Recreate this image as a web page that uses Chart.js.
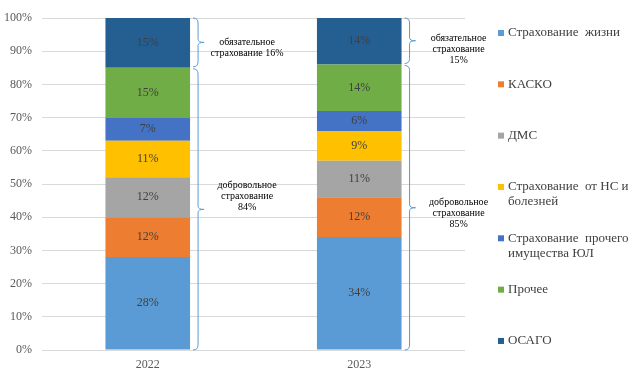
<!DOCTYPE html>
<html>
<head>
<meta charset="utf-8">
<script src="https://cdn.jsdelivr.net/npm/chart.js@4.4.0/dist/chart.umd.min.js"></script>
<style>
  body { margin: 0; background: #fff; }
  #wrap { width: 643px; height: 375px; }
</style>
</head>
<body>
<div id="wrap"><canvas id="c" width="643" height="375"></canvas></div>
<script>
const years = ['2022', '2023'];
const seriesNames = [
  ['Страхование  жизни'],
  ['КАСКО'],
  ['ДМС'],
  ['Страхование  от НС и', 'болезней'],
  ['Страхование  прочего', 'имущества ЮЛ'],
  ['Прочее'],
  ['ОСАГО']
];
const lifeIns = [28, 34];
const kasko = [12, 12];
const dms = [12, 11];
const accident = [11, 9];
const property = [7, 6];
const other = [15, 14];
const osago = [15, 14];
const yTicks = [0, 10, 20, 30, 40, 50, 60, 70, 80, 90, 100];
// подписи скобок: [обязательное, добровольное] для каждого года
const mandatoryText = [['обязательное', 'страхование 16%'], ['обязательное', 'страхование', '15%']];
const voluntaryText = [['добровольное', 'страхование', '84%'], ['добровольное', 'страхование', '85%']];

const colors = ['#5B9BD5', '#ED7D31', '#A5A5A5', '#FFC000', '#4472C4', '#70AD47', '#255E91'];
const allSeries = [lifeIns, kasko, dms, accident, property, other, osago];

// сдвиг подписей скобок по вертикали, px
const labelShift = [[5, -13], [9, 6]];

const extras = {
  id: 'extras',
  afterDatasetsDraw(chart) {
    const ctx = chart.ctx;
    const y = chart.scales.y;
    ctx.save();
    // подписи значений
    ctx.font = '12px "Liberation Serif"';
    ctx.fillStyle = '#404040';
    ctx.textAlign = 'center';
    ctx.textBaseline = 'middle';
    chart.data.datasets.forEach((ds, i) => {
      chart.getDatasetMeta(i).data.forEach((bar, j) => {
        const p = bar.getProps(['x', 'y', 'base'], true);
        ctx.fillText(ds.data[j] + '%', p.x, (p.y + p.base) / 2);
      });
    });

    // фигурные скобки
    const brace = (x, y1, y2) => {
      const h = 5, mid = (y1 + y2) / 2;
      ctx.beginPath();
      ctx.moveTo(x - h, y1);
      ctx.quadraticCurveTo(x, y1, x, y1 + h);
      ctx.lineTo(x, mid - 3);
      ctx.quadraticCurveTo(x, mid, x + 6, mid);
      ctx.quadraticCurveTo(x, mid, x, mid + 3);
      ctx.lineTo(x, y2 - h);
      ctx.quadraticCurveTo(x, y2, x - h, y2);
      ctx.stroke();
      return mid;
    };
    const meta = chart.getDatasetMeta(0);
    ctx.strokeStyle = '#5B9BD5';
    ctx.lineWidth = 1;
    years.forEach((yr, j) => {
      const bar = meta.data[j];
      const right = bar.x + bar.width / 2;
      const bx = right + 8;
      const split = 100 - osago[j];
      const top = y.getPixelForValue(100);
      const sp = y.getPixelForValue(split);
      const bot = y.getPixelForValue(0);
      const m1 = brace(bx, top, sp - 1);
      const m2 = brace(bx, sp + 1, bot);
      ctx.font = '10px "Liberation Serif"';
      ctx.fillStyle = '#000';
      const tx = right + 57;
      [[mandatoryText[j], m1 + labelShift[j][0]], [voluntaryText[j], m2 + labelShift[j][1]]].forEach(([lines, cy]) => {
        const lh = 11;
        const start = cy - (lines.length - 1) * lh / 2;
        lines.forEach((t, k) => ctx.fillText(t, tx, start + k * lh));
      });
    });

    // легенда
    ctx.font = '13px "Liberation Serif"';
    ctx.textAlign = 'left';
    const area = chart.chartArea;
    const step = (area.bottom - area.top) * 0.1546;
    seriesNames.forEach((lines, i) => {
      const ly = area.top + 15 + i * step;
      ctx.fillStyle = colors[i];
      ctx.fillRect(area.right + 33, ly - 3, 6, 6);
      ctx.fillStyle = '#404040';
      lines.forEach((t, k) => ctx.fillText(t, area.right + 43, ly + k * 15));
    });
    ctx.restore();
  }
};

new Chart(document.getElementById('c'), {
  type: 'bar',
  data: {
    labels: years,
    datasets: allSeries.map((d, i) => ({
      label: seriesNames[i].join(' '),
      data: d,
      backgroundColor: colors[i],
      borderWidth: 0,
      barPercentage: 0.4,
      categoryPercentage: 1
    }))
  },
  options: {
    responsive: false,
    animation: false,
    layout: { padding: { left: 2, right: 178, top: 18, bottom: 0 } },
    scales: {
      x: {
        stacked: true,
        grid: { display: false, drawTicks: false },
        border: { display: false },
        afterFit(axis) { axis.height = 25; },
        ticks: { color: '#595959', font: { family: 'Liberation Serif', size: 12 }, padding: 8 }
      },
      y: {
        stacked: true,
        min: 0,
        max: 100,
        afterBuildTicks(axis) { axis.ticks = yTicks.map(v => ({ value: v })); },
        afterFit(axis) { axis.width = 40; },
        grid: { color: '#D9D9D9', drawTicks: false },
        border: { display: false },
        ticks: {
          color: '#595959',
          font: { family: 'Liberation Serif', size: 12 },
          padding: 10,
          callback: v => v + '%'
        }
      }
    },
    plugins: { legend: { display: false }, tooltip: { enabled: false } }
  },
  plugins: [extras]
});
</script>
</body>
</html>
